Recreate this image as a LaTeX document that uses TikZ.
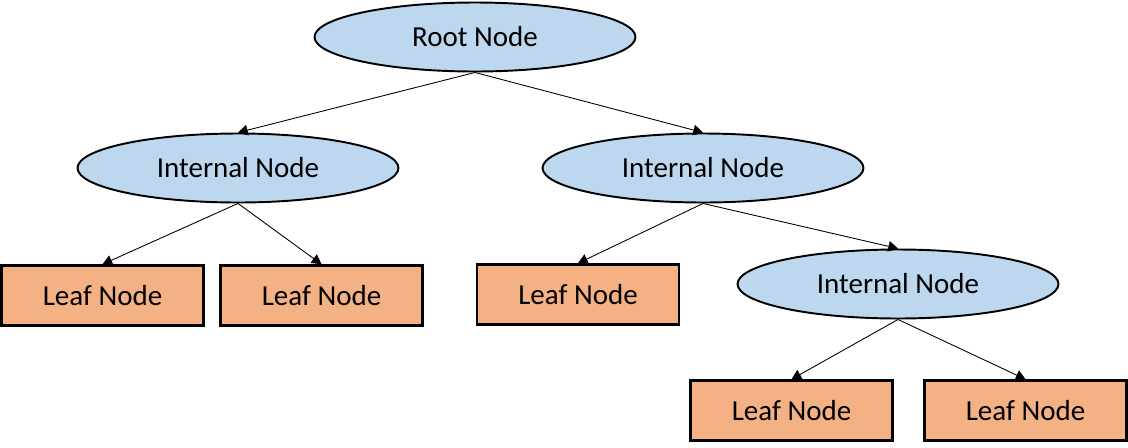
\documentclass[tikz,border=0pt]{standalone}
\usepackage{fontspec}
\setmainfont{Carlito}
\usepackage{xcolor}
\usepackage{tikz}
\usetikzlibrary{arrows.meta,shapes.geometric}
\definecolor{nblue}{HTML}{BDD7EE}
\definecolor{norange}{HTML}{F4B183}

\begin{document}
\begin{tikzpicture}[x=0.02cm,y=-0.02cm,
  inner/.style={ellipse, draw=black, line width=1.1pt, fill=nblue,
                minimum width=6.42cm, minimum height=1.38cm,
                font=\fontsize{16.5}{19}\selectfont},
  leaf/.style={rectangle, draw=black, line width=1.4pt, fill=norange,
               minimum width=4.04cm, minimum height=1.2cm,
               font=\fontsize{16.5}{19}\selectfont},
  link/.style={-{Triangle[length=5.5pt,width=6pt]}, line width=0.5pt}]

  \useasboundingbox (0,0) rectangle (1128,447);

  % nós internos
  \node[inner] (root) at (475,37)  {Root Node};
  \node[inner] (intl) at (238,168) {Internal Node};
  \node[inner] (intm) at (703,168) {Internal Node};
  \node[inner] (intr) at (898,284) {Internal Node};

  % folhas
  \node[leaf] (leafa) at (102.5,295.5) {Leaf Node};
  \node[leaf] (leafb) at (321.5,295.5) {Leaf Node};
  \node[leaf] (leafc) at (578,294.5)   {Leaf Node};
  \node[leaf] (leafd) at (791.5,410.5) {Leaf Node};
  \node[leaf] (leafe) at (1025.5,410.5) {Leaf Node};

  % ligações
  \draw[link] (root.south) -- (intl.north);
  \draw[link] (root.south) -- (intm.north);
  \draw[link] (intl.south) -- (leafa.north);
  \draw[link] (intl.south) -- (leafb.north);
  \draw[link] (intm.south) -- (leafc.north);
  \draw[link] (intm.south) -- (intr.north);
  \draw[link] (intr.south) -- (leafd.north);
  \draw[link] (intr.south) -- (leafe.north);

\end{tikzpicture}
\end{document}
